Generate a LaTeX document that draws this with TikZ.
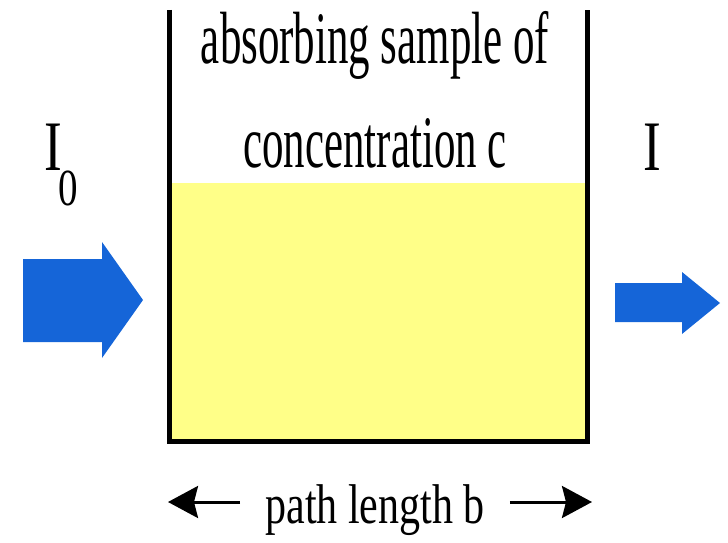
\documentclass[tikz,border=0pt]{standalone}
\usepackage{fontspec}
\usetikzlibrary{arrows.meta}
\newfontfamily\condA[FakeStretch=0.58]{Liberation Serif}
\newfontfamily\condB[FakeStretch=0.75]{Liberation Serif}
\definecolor{ink}{HTML}{000000}
\definecolor{bm}{HTML}{1565D8}
\definecolor{liq}{HTML}{FFFF88}
\tikzset{
  wall/.style={draw=ink,line width=5pt,line join=miter},
  liquid/.style={fill=liq},
  beam/.style={fill=bm},
  lab/.style={inner sep=0pt,text=ink},
  big/.style={lab,font=\condA\fontsize{74}{104}\selectfont,align=center},
  mid/.style={lab,font=\condB\fontsize{71}{71}\selectfont},
  dimlab/.style={lab,inner xsep=25pt,font=\condB\fontsize{56}{56}\selectfont},
  dim/.style={-{Stealth[length=30pt,width=32pt,inset=4pt]},line width=3pt,ink}
}
\begin{document}
\begin{tikzpicture}[x=1pt,y=-1pt]
\useasboundingbox (0,0) rectangle (728,543);
% ---- cuvette
\fill[liquid] (169,183) rectangle (587,441);
\draw[wall] (169,10) -- (169,441) -- (587,441) -- (587,10);
\node[big,anchor=base] (samp) at (375,167) {absorbing sample of\\concentration c};
% ---- light beams
\fill[beam] (23,259) -- (102,259) -- (102,242) -- (143,300) -- (102,358) -- (102,342) -- (23,342) -- cycle;
\fill[beam] (615,283) -- (682,283) -- (682,272) -- (720,303) -- (682,334) -- (682,322) -- (615,322) -- cycle;
\node[mid,anchor=base west] (inI) at (44,170) {I\kern-3pt\raisebox{-35pt}{\fontsize{52}{52}\selectfont 0}};
\node[mid,anchor=base] (outI) at (652,170) {I};
% ---- path length
\node[dimlab,anchor=base] (len) at (375,523) {path length b};
\coordinate (lend) at (168,502);
\coordinate (rend) at (592,502);
\draw[dim] (len.west |- lend) -- (lend);
\draw[dim] (len.east |- rend) -- (rend);
\end{tikzpicture}
\end{document}
